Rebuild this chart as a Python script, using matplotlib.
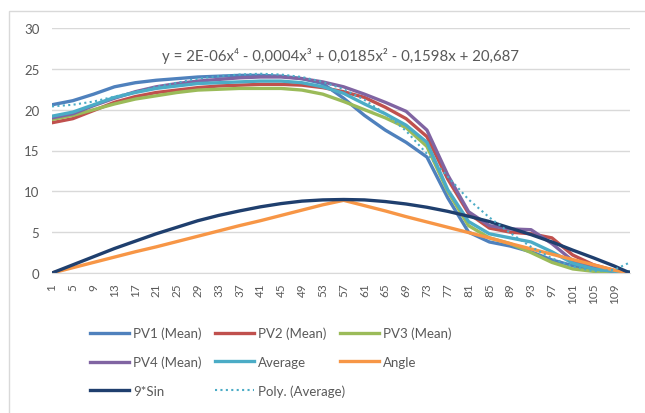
import matplotlib
matplotlib.use("Agg")
import matplotlib.pyplot as plt
from matplotlib.patches import Rectangle

plt.rcParams['font.family'] = ['Lato', 'DejaVu Sans']

# sample positions (category index) and the values
x = [1, 5, 9, 13, 17, 21, 25, 29, 33, 37, 41, 45, 49, 53, 57,
     61, 65, 69, 73, 77, 81, 85, 89, 93, 97, 101, 105, 109, 112]

pv1 = [20.6, 21.1, 21.9, 22.8, 23.3, 23.6, 23.8, 24.0, 24.1, 24.2, 24.2, 24.1, 23.8, 23.2, 21.4,
       19.3, 17.5, 16.0, 14.2, 9.2, 5.0, 3.8, 3.3, 2.6, 1.6, 0.9, 0.4, 0.2, 0.1]
pv2 = [18.4, 18.9, 19.9, 20.9, 21.6, 22.1, 22.4, 22.7, 22.9, 23.0, 23.1, 23.1, 23.0, 22.7, 22.2,
       21.5, 20.3, 18.9, 16.7, 11.5, 7.3, 5.5, 5.0, 4.8, 4.3, 2.2, 1.0, 0.3, 0.1]
pv3 = [18.8, 19.3, 20.0, 20.7, 21.3, 21.7, 22.1, 22.4, 22.5, 22.6, 22.6, 22.6, 22.4, 21.9, 21.0,
       20.0, 19.0, 17.8, 15.5, 10.0, 5.8, 4.3, 3.6, 2.5, 1.3, 0.5, 0.2, 0.1, 0.1]
pv4 = [19.0, 19.5, 20.5, 21.4, 22.2, 22.8, 23.2, 23.5, 23.7, 23.9, 24.0, 24.0, 23.8, 23.4, 22.8,
       21.9, 20.9, 19.8, 17.5, 12.0, 7.5, 5.8, 5.4, 5.3, 3.6, 1.5, 0.6, 0.2, 0.1]
average = [19.2, 19.7, 20.6, 21.5, 22.1, 22.6, 22.9, 23.2, 23.3, 23.4, 23.5, 23.5, 23.3, 22.8, 22.0,
           20.7, 19.5, 18.1, 16.0, 10.2, 6.3, 4.8, 4.3, 3.8, 2.6, 1.2, 0.5, 0.2, 0.1]
angle = [0.0, 0.65, 1.3, 1.95, 2.6, 3.2, 3.85, 4.5, 5.15, 5.8, 6.4, 7.05, 7.7, 8.35, 8.9,
         8.25, 7.6, 6.9, 6.25, 5.6, 4.95, 4.3, 3.6, 2.95, 2.3, 1.65, 1.0, 0.35, 0.0]
sin9 = [0.0, 1.0, 2.0, 3.0, 3.9, 4.8, 5.6, 6.4, 7.05, 7.6, 8.1, 8.5, 8.8, 8.95, 9.0,
        8.95, 8.75, 8.45, 8.05, 7.55, 6.95, 6.3, 5.5, 4.7, 3.8, 2.8, 1.85, 0.85, 0.0]
poly_avg = [20.4, 20.6, 21.0, 21.6, 22.2, 22.8, 23.3, 23.8, 24.1, 24.3, 24.4, 24.3, 24.0, 23.4, 22.5,
            21.2, 19.5, 17.4, 14.6, 11.8, 9.0, 6.8, 4.9, 3.2, 1.8, 0.8, 0.2, 0.4, 1.3]

tick_pos = list(range(1, 110, 4))
equation = "y = 2E-06x\u2074 - 0,0004x\u00b3 + 0,0185x\u00b2 - 0,1598x + 20,687"

fig = plt.figure(figsize=(6.45, 4.14), dpi=100)
# light outer frame of the embedded chart
fig.patches.append(Rectangle((9 / 645, -0.1), 1.2, (414 - 12) / 414 + 0.1,
                             transform=fig.transFigure, fill=False,
                             edgecolor='#d9d9d9', linewidth=1))

ax = fig.add_axes([52 / 645, 140 / 414, 578 / 645, 245 / 414])

lw = 2.4
l1, = ax.plot(x, pv1, color='#4f81bd', lw=lw, label='PV1 (Mean)')
l2, = ax.plot(x, pv2, color='#c0504d', lw=lw, label='PV2 (Mean)')
l3, = ax.plot(x, pv3, color='#9bbb59', lw=lw, label='PV3 (Mean)')
l4, = ax.plot(x, pv4, color='#8064a2', lw=lw, label='PV4 (Mean)')
l5, = ax.plot(x, average, color='#4bacc6', lw=lw, label='Average')
l6, = ax.plot(x, angle, color='#f79646', lw=lw, label='Angle')
l7, = ax.plot(x, sin9, color='#1f3f6e', lw=lw, label='9*Sin')
l8, = ax.plot(x, poly_avg, color='#4bacc6', lw=1.5, linestyle=(0, (1, 1.6)),
              label='Poly. (Average)')

ax.set_xlim(1, 112)
ax.set_ylim(0, 30)
ax.set_yticks(range(0, 31, 5))
ax.set_xticks(tick_pos)
ax.set_xticklabels([str(t) for t in tick_pos], rotation=90)
ax.tick_params(axis='both', length=0, colors='#595959', labelsize=9.5)
ax.tick_params(axis='x', pad=7, labelsize=8.5)
ax.tick_params(axis='y', pad=9)
ax.grid(axis='y', color='#d9d9d9', linewidth=1)
ax.set_axisbelow(True)
for s in ['top', 'right', 'left']:
    ax.spines[s].set_visible(False)
ax.spines['bottom'].set_color('#d9d9d9')

ax.text(0.5, 0.89, equation, transform=ax.transAxes, ha='center', va='center',
        fontsize=10.8, color='#595959')

# Excel lays the legend out in fixed-width columns, so one legend per column
columns = [[l1, l4, l7], [l2, l5, l8], [l3, l6]]
col_x = [78, 203, 328]
for cx, col in zip(col_x, columns):
    fig.legend(handles=col, labels=[h.get_label() for h in col],
               loc='upper left', bbox_to_anchor=(cx / 645, 1 - 316 / 414),
               frameon=False, fontsize=9.5, handlelength=3.0,
               handletextpad=0.25, labelspacing=1.25, labelcolor='#595959')

fig.savefig('out.png', dpi=100)
